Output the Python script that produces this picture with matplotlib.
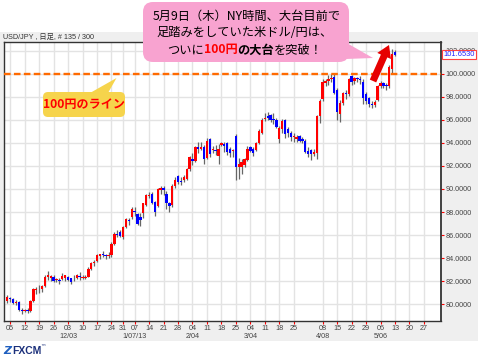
import matplotlib
matplotlib.use('Agg')
import matplotlib.pyplot as plt
import matplotlib.transforms as mtransforms
from matplotlib.patches import FancyBboxPatch, Polygon, FancyArrow, Rectangle
import numpy as np

plt.rcParams['font.family'] = ['Noto Sans CJK JP', 'DejaVu Sans']

# USD/JPY daily, 2012-11-02 .. 2013-05-13 (135 bars)
opens = [80.25, 80.50, 80.45, 80.10, 80.20, 79.50, 79.45, 79.50, 79.40, 80.30,
         81.20, 81.30, 81.30, 81.60, 82.40, 82.30, 82.40, 82.10, 82.10, 82.20,
         82.30, 82.40, 82.25, 82.15, 82.25, 82.40, 82.25, 82.30, 82.40, 83.10,
         83.60, 83.75, 84.20, 84.35, 84.25, 84.20, 84.30, 85.20, 86.10, 86.30,
         85.80, 86.70, 87.30, 87.60, 88.10, 87.80, 87.60, 87.90, 88.60, 89.40,
         89.60, 88.90, 88.50, 89.90, 90.10, 89.60, 88.80, 88.60, 90.30, 91.10,
         90.70, 90.80, 90.90, 91.70, 92.60, 92.40, 93.60, 93.50, 93.60, 92.70,
         94.30, 93.40, 93.40, 92.90, 93.80, 93.90, 94.00, 93.50, 93.30, 94.60,
         91.90, 91.90, 92.10, 92.50, 93.60, 93.50, 93.40, 94.00, 94.90, 96.10,
         96.30, 96.40, 96.10, 96.00, 94.30, 95.20, 96.00, 95.20, 94.90, 94.50,
         94.30, 94.60, 94.30, 94.20, 93.30, 93.40, 93.00, 93.10, 96.30, 97.80,
         99.20, 99.40, 99.50, 99.70, 98.60, 96.50, 97.45, 98.30, 98.20, 99.80,
         99.35, 99.60, 99.50, 99.30, 98.20, 97.90, 97.40, 97.25, 97.70, 98.90,
         99.20, 99.00, 98.95, 100.40, 101.85]
highs = [80.80, 80.65, 80.55, 80.35, 80.25, 79.65, 79.60, 79.65, 80.35, 81.40,
         81.50, 81.70, 81.70, 82.55, 82.90, 82.55, 82.50, 82.30, 82.25, 82.70,
         82.55, 82.45, 82.30, 82.50, 82.60, 82.80, 82.50, 82.50, 83.25, 83.70,
         83.85, 84.40, 84.40, 84.60, 84.40, 84.50, 85.40, 86.30, 86.40, 86.40,
         86.80, 87.50, 87.50, 88.40, 88.40, 87.90, 87.90, 88.80, 89.60, 89.70,
         89.70, 89.00, 90.10, 90.30, 90.30, 89.80, 88.90, 90.40, 91.00, 91.20,
         91.00, 91.20, 91.80, 92.90, 93.10, 93.70, 94.05, 94.10, 93.80, 94.40,
         94.45, 93.70, 93.80, 93.90, 94.10, 94.10, 94.10, 93.60, 93.50, 94.75,
         92.70, 92.60, 92.70, 93.70, 93.70, 93.60, 94.10, 95.20, 96.15, 96.60,
         96.65, 96.50, 96.60, 96.20, 95.50, 96.05, 96.10, 95.40, 95.00, 94.90,
         94.70, 94.70, 94.50, 94.35, 93.60, 93.50, 93.50, 96.45, 97.80, 99.50,
         99.50, 99.85, 100.00, 99.95, 98.80, 97.70, 98.40, 98.60, 99.60, 99.90,
         99.75, 99.75, 99.80, 99.55, 98.40, 98.00, 97.60, 97.70, 99.00, 99.40,
         99.30, 99.20, 100.75, 102.10, 102.05]
lows = [80.10, 80.20, 80.00, 79.95, 79.40, 79.20, 79.30, 79.25, 79.30, 80.20,
        80.90, 81.00, 81.10, 81.50, 82.10, 82.05, 81.95, 81.90, 81.75, 82.10,
        82.05, 82.00, 81.75, 82.05, 82.15, 82.10, 82.20, 82.20, 82.35, 83.00,
        83.30, 83.65, 83.95, 84.10, 83.90, 84.00, 84.10, 85.10, 85.80, 85.80,
        85.70, 86.60, 86.90, 87.40, 87.70, 86.90, 86.80, 87.50, 88.50, 89.20,
        88.70, 87.70, 88.40, 89.60, 89.50, 88.30, 88.00, 88.40, 90.10, 90.40,
        90.35, 90.60, 90.80, 91.60, 92.10, 92.30, 93.10, 93.40, 92.20, 92.60,
        92.80, 93.10, 92.95, 92.20, 93.70, 93.20, 92.95, 92.80, 92.80, 90.80,
        90.90, 91.30, 91.90, 92.40, 93.20, 92.90, 93.30, 93.90, 94.80, 95.90,
        96.00, 95.85, 95.60, 95.30, 94.00, 94.90, 94.40, 94.50, 94.20, 94.10,
        94.10, 94.10, 93.95, 93.10, 92.80, 92.50, 92.90, 92.60, 95.70, 97.60,
        98.90, 99.00, 99.30, 98.20, 96.00, 95.80, 97.30, 97.80, 98.10, 99.00,
        99.10, 99.30, 99.15, 97.40, 97.40, 97.10, 97.00, 97.10, 97.60, 98.80,
        98.80, 98.60, 98.80, 100.00, 101.55]
closes = [80.60, 80.45, 80.10, 80.20, 79.50, 79.45, 79.50, 79.40, 80.30, 81.30,
          81.30, 81.35, 81.60, 82.40, 82.50, 82.45, 82.00, 82.15, 82.05, 82.45,
          82.50, 82.10, 81.90, 82.20, 82.50, 82.35, 82.40, 82.35, 83.10, 83.60,
          83.70, 84.25, 84.35, 84.30, 84.15, 84.30, 85.20, 86.10, 86.00, 85.90,
          86.70, 87.40, 87.25, 88.30, 88.00, 87.00, 87.30, 88.75, 89.50, 89.45,
          88.80, 88.00, 90.00, 90.10, 89.95, 88.80, 88.50, 90.30, 90.80, 90.60,
          90.60, 91.05, 91.70, 92.75, 92.40, 93.60, 93.50, 93.60, 92.60, 94.20,
          93.00, 93.50, 93.30, 93.50, 94.00, 93.70, 93.20, 93.10, 93.40, 91.90,
          92.20, 92.30, 92.60, 93.50, 93.30, 93.10, 94.00, 95.00, 96.00, 96.20,
          96.20, 96.00, 96.00, 95.40, 95.30, 95.90, 94.80, 94.90, 94.50, 94.50,
          94.50, 94.20, 94.20, 93.20, 93.00, 93.00, 93.20, 96.30, 97.60, 99.30,
          99.40, 99.50, 99.60, 98.30, 96.70, 97.50, 98.30, 98.20, 99.50, 99.30,
          99.60, 99.55, 99.45, 97.90, 97.60, 97.40, 97.30, 97.55, 98.90, 99.20,
          98.95, 98.90, 100.60, 101.75, 101.65]

# weekly (Monday) ticks, as bar positions
tick_bars = [1, 6, 11, 16, 21, 26, 31, 36, 40, 44, 49, 54, 59, 64, 69, 74, 79,
             84, 89, 94, 99, 109, 114, 119, 124, 129, 134, 139, 144]
tick_labels = ['05', '12', '19', '26', '03', '10', '17', '24', '31', '07', '14',
               '21', '28', '04', '11', '18', '25', '04', '11', '18', '25', '08',
               '15', '22', '29', '06', '13', '20', '27']
month_bars = [21, 44, 64, 84, 109, 129]
month_labels = ['12/03', '1/07/13', '2/04', '3/04', '4/08', '5/06']
last_price = 101.6530

W, H = 478, 358
fig = plt.figure(figsize=(W / 100, H / 100), dpi=100, facecolor='white')

# gray chart panel behind everything
bg = fig.add_axes([0, 0, 1, 1], zorder=0)
bg.set_xlim(0, W)
bg.set_ylim(H, 0)
bg.axis('off')
bg.add_patch(Rectangle((0, 32), W, 309, facecolor='#efefef', edgecolor='none'))
bg.text(3.5, 37, 'USD/JPY , 日足, # 135 / 300', fontsize=5.2, color='#333333',
        va='center', ha='left', family=['Liberation Sans', 'Noto Sans CJK JP'])
# FXCM logo
bg.text(3, 351, 'Z', fontsize=8, fontweight='bold', color='#1f5fbf', va='center',
        family='DejaVu Sans', style='italic')
bg.text(12, 351, 'FXCM', fontsize=7.5, fontweight='bold', color='#1a2f7a',
        va='center', family='Liberation Sans')
bg.text(40, 347, '™', fontsize=4, color='#1a2f7a', va='center', family='DejaVu Sans')

# main price axes
ax = fig.add_axes([4.3 / W, 1 - 321 / H, (441 - 4.3) / W, (321 - 42) / H], zorder=1)
ax.set_facecolor('white')
x = np.arange(len(closes))
o = np.array(opens)
c = np.array(closes)
body_lo = np.minimum(o, c)
body_h = np.maximum(np.abs(c - o), 0.06)
colors = np.where(c >= o, '#ff0000', '#0000ff')

ax.vlines(x, lows, highs, color='#666666', lw=0.9, zorder=3)
ax.bar(x, body_h, bottom=body_lo, width=0.82, color=colors, zorder=4, linewidth=0)

ax.axhline(100, color='#ff6a00', lw=1.7, linestyle=(0, (2.8, 1.4)), zorder=5)

ax.set_xlim(-1.04, 149.9)
ax.set_ylim(78.55, 102.75)
ax.set_xticks(tick_bars, tick_labels)
ax.set_yticks(np.arange(80, 103, 2))
ax.yaxis.set_major_formatter(plt.FormatStrFormatter('%.4f'))
ax.yaxis.tick_right()
ax.tick_params(axis='both', color='red', labelcolor='#444444', labelsize=5.2,
               length=2, width=0.8, pad=1.2, labelfontfamily='Liberation Sans')
ax.grid(True, color='#e3e3e3', lw=1.0)
ax.set_axisbelow(True)
for side, sp in ax.spines.items():
    sp.set_color('#333333')
    sp.set_linewidth(1.0)
ax.spines['right'].set_linewidth(1.3)

trans = mtransforms.blended_transform_factory(ax.transData, ax.transAxes)
for b, s in zip(month_bars, month_labels):
    ax.text(b, -0.057, s, transform=trans, ha='center', va='center', fontsize=5.2,
            color='#444444', family='Liberation Sans')

# current price tag (sits over the 102.0000 label, as in the original)
ax.text(1.006, last_price, f'{last_price:.4f}',
        transform=mtransforms.blended_transform_factory(ax.transAxes, ax.transData),
        ha='left', va='center', fontsize=5.4, color='#2020ff', family='Liberation Sans',
        bbox=dict(boxstyle='square,pad=0.18', facecolor='white', edgecolor='#ff4040', lw=0.8),
        clip_on=False, zorder=6)

# annotation overlay in pixel coordinates
ov = fig.add_axes([0, 0, 1, 1], zorder=2)
ov.set_xlim(0, W)
ov.set_ylim(H, 0)
ov.axis('off')
ov.patch.set_alpha(0)

# yellow callout
yellow = '#f6d44c'
ov.add_patch(FancyBboxPatch((43, 92), 82, 25, boxstyle='round,pad=0,rounding_size=5',
                            facecolor=yellow, edgecolor='none'))
ov.add_patch(Polygon([(90, 93), (108, 93), (116.5, 78)], closed=True,
                     facecolor=yellow, edgecolor='none'))
ov.text(84, 104.5, '100円のライン', color='#ff0000', fontsize=8.7, fontweight='bold',
        ha='center', va='center')

# pink callout
pink = '#f8a3d0'
ov.add_patch(FancyBboxPatch((143, 2), 206, 60, boxstyle='round,pad=0,rounding_size=10',
                            facecolor=pink, edgecolor='none'))
ov.add_patch(Polygon([(318, 60), (345, 42), (373, 58)], closed=True,
                     facecolor=pink, edgecolor='none'))

fs = 8.8
ov.text(247, 16, '5月9日（木）NY時間、大台目前で', fontsize=fs, ha='center', va='center', color='black')
ov.text(245, 33, '足踏みをしていた米ドル/円は、', fontsize=fs, ha='center', va='center', color='black')

pieces = [('ついに', 'black', 'normal'), ('100円', '#ff0000', 'bold'),
          ('の大台', 'black', 'bold'), ('を突破！', 'black', 'normal')]
renderer = fig.canvas.get_renderer()
items = []
total = 0
for s, col, wt in pieces:
    t = ov.text(0, 50, s, fontsize=fs, color=col, fontweight=wt, ha='left', va='center')
    w = t.get_window_extent(renderer).width
    items.append((t, w))
    total += w
xpos = 245 - total / 2
for t, w in items:
    t.set_x(xpos)
    xpos += w

# red arrow
ov.add_patch(FancyArrow(373, 81, 16, -36, width=7, head_width=15, head_length=12,
                        length_includes_head=True, facecolor='#e60000', edgecolor='none'))

fig.savefig('out.png', dpi=100, facecolor='white')
